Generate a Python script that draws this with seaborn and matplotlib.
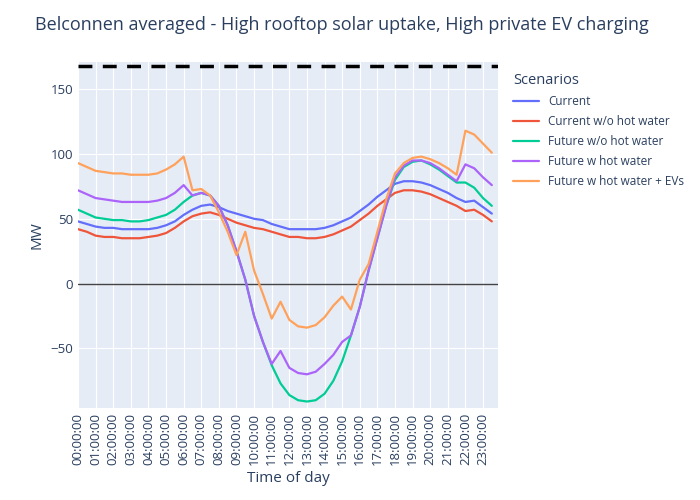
import numpy as np
import pandas as pd
import matplotlib
matplotlib.use("Agg")
import matplotlib.pyplot as plt
import seaborn as sns

hours = [h / 2 for h in range(48)]
tick_labels = ["%02d:00:00" % h for h in range(24)]

current = [48, 46, 44, 43, 43, 42, 42, 42, 42, 43, 45, 48, 53, 57, 60, 61, 59, 56, 54, 52,
           50, 49, 46, 44, 42, 42, 42, 42, 43, 45, 48, 51, 56, 61, 67, 72, 77, 79, 79, 78,
           76, 73, 70, 66, 63, 64, 59, 54]
current_no_hw = [42, 40, 37, 36, 36, 35, 35, 35, 36, 37, 39, 43, 48, 52, 54, 55, 53, 50, 47, 45,
                 43, 42, 40, 38, 36, 36, 35, 35, 36, 38, 41, 44, 49, 54, 60, 65, 70, 72, 72, 71,
                 69, 66, 63, 60, 56, 57, 53, 48]
future_no_hw = [57, 54, 51, 50, 49, 49, 48, 48, 49, 51, 53, 57, 63, 68, 70, 68, 60, 45, 25, 3,
                -25, -45, -63, -77, -86, -90, -91, -90, -85, -75, -60, -40, -18, 10, 35, 60, 80, 90, 94, 95,
                92, 88, 83, 78, 78, 74, 66, 60]
future_hw = [72, 69, 66, 65, 64, 63, 63, 63, 63, 64, 66, 70, 76, 68, 70, 68, 60, 45, 25, 3,
             -25, -45, -62, -52, -65, -69, -70, -68, -62, -55, -45, -40, -18, 10, 35, 60, 82, 91, 95, 95,
             93, 89, 84, 79, 92, 89, 82, 76]
future_hw_ev = [93, 90, 87, 86, 85, 85, 84, 84, 84, 85, 88, 92, 98, 72, 73, 68, 55, 40, 22, 40,
                10, -8, -27, -14, -28, -33, -34, -32, -26, -17, -10, -20, 3, 15, 40, 65, 85, 93, 97, 98,
                96, 93, 89, 84, 118, 115, 108, 101]
capacity = 168

names = ["Current", "Current w/o hot water", "Future w/o hot water", "Future w hot water",
         "Future w hot water + EVs"]
colors = ["#636EFA", "#EF553B", "#00CC96", "#AB63FA", "#FFA15A"]

series = [current, current_no_hw, future_no_hw, future_hw, future_hw_ev]
df = pd.concat([pd.DataFrame({"hour": hours, "MW": s, "Scenarios": n}) for s, n in zip(series, names)])

sns.set_style("darkgrid", {"axes.facecolor": "#E5ECF6", "grid.color": "white"})
plt.rcParams["font.family"] = ["Open Sans", "DejaVu Sans"]
txt = "#2a3f5f"

fig = plt.figure(figsize=(7, 5), dpi=100)
ax = fig.add_axes([78 / 700, 92 / 500, 420 / 700, 346 / 500])
sns.lineplot(data=df, x="hour", y="MW", hue="Scenarios", palette=colors, ax=ax, linewidth=1.6)
ax.axhline(capacity, color="black", linestyle=(0, (4, 3)), linewidth=2.5)
ax.axhline(0, color="#444444", linewidth=1, zorder=1)

ax.set_xlim(0, 23.85)
ax.set_ylim(-96, 171)
ax.set_xticks(range(24))
ax.set_xticklabels(tick_labels, rotation=90, color=txt, fontsize=9.5)
ax.set_yticks([-50, 0, 50, 100, 150])
ax.tick_params(axis="y", labelcolor=txt, labelsize=9.5, length=0)
ax.tick_params(axis="x", length=0)
for s in ax.spines.values():
    s.set_visible(False)
ax.set_xlabel("Time of day", color=txt, fontsize=11)
ax.set_ylabel("MW", color=txt, fontsize=11)
fig.text(35 / 700, 1 - 25 / 500, "Belconnen averaged - High rooftop solar uptake, High private EV charging",
         color=txt, fontsize=13, va="center")
leg = ax.legend(title="Scenarios", loc="upper left", bbox_to_anchor=(1.01, 1.0), frameon=False,
                fontsize=8.5, title_fontsize=10.5, handlelength=2.2, labelspacing=0.6)
for t in leg.get_texts():
    t.set_color(txt)
leg.get_title().set_color(txt)
leg._legend_box.align = "left"

fig.savefig("out.png", dpi=100)
